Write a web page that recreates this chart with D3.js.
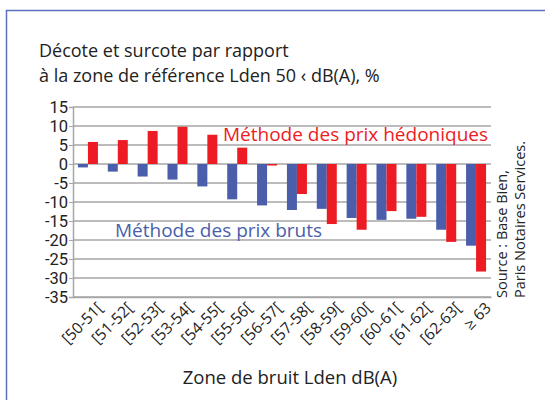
<!DOCTYPE html>
<html>
<head>
<meta charset="utf-8">
<script src="https://cdn.jsdelivr.net/npm/d3@7"></script>
<style>
  html, body { margin: 0; padding: 0; background: #fff; }
  svg { display: block; font-family: "Open Sans", sans-serif; }
</style>
</head>
<body>
<div id="root"></div>
<script>
const categories = ['[50-51[', '[51-52[', '[52-53[', '[53-54[', '[54-55[', '[55-56[', '[56-57[',
    '[57-58[', '[58-59[', '[59-60[', '[60-61[', '[61-62[', '[62-63[', '≥ 63'];
const brutsValues = [-0.9, -2.0, -3.3, -4.1, -5.9, -9.3, -10.9, -12.1, -11.8, -14.2, -14.7, -14.4, -17.3, -21.5];
const hedoniquesValues = [5.8, 6.3, 8.7, 9.8, 7.7, 4.3, -0.4, -7.9, -15.8, -17.3, -12.4, -13.9, -20.5, -28.3];
const yTicks = [15, 10, 5, 0, -5, -10, -15, -20, -25, -30, -35];

const width = 545;
const height = 400;
const blue = '#4a5eab';
const red = '#ed1c24';

const svg = d3.select('#root')
    .append('svg')
        .attr('width', width)
        .attr('height', height);

// frame (left + top only)
svg.append('path')
    .attr('d', `M6.5,${height} V10.5 H${width}`)
    .attr('fill', 'none')
    .attr('stroke', '#5b6fc0')
    .attr('stroke-width', 1.5);

// title
const title = svg.append('text')
    .attr('y', 57)
    .attr('font-size', 18)
    .attr('fill', '#222');
title.append('tspan').attr('x', 39).text('Décote et surcote par rapport');
title.append('tspan').attr('x', 39).attr('dy', 25).text('à la zone de référence Lden 50 ‹ dB(A), %');

const x = d3.scaleBand()
    .domain(categories)
    .range([73, 491]);

const y = d3.scaleLinear()
    .domain([-35, 15])
    .range([297, 107]);

// grid lines
svg.append('g')
    .selectAll('line')
    .data(yTicks)
    .enter()
    .append('line')
        .attr('x1', 73)
        .attr('x2', 491)
        .attr('y1', d => y(d))
        .attr('y2', d => y(d))
        .attr('stroke', '#a6a6a6')
        .attr('stroke-width', 1.5);

// y axis
const yAxis = svg.append('g')
    .attr('transform', 'translate(73, 0)')
    .call(d3.axisLeft(y).tickValues(yTicks).tickSize(4));
yAxis.select('.domain').attr('stroke', '#a6a6a6').attr('stroke-width', 1.5);
yAxis.selectAll('.tick line').attr('stroke', '#a6a6a6');
yAxis.selectAll('.tick text')
    .attr('font-family', 'Roboto, sans-serif')
    .attr('font-size', 16.5)
    .attr('fill', '#222')
    .attr('x', -5)
    .text(d => d < 0 ? '-' + Math.abs(d) : d);

// x axis
const xAxis = svg.append('g')
    .attr('transform', `translate(0, ${y(-35)})`)
    .call(d3.axisBottom(x).tickSize(0).tickFormat(''));
xAxis.select('.domain').attr('stroke', '#a6a6a6').attr('stroke-width', 1.5);

svg.append('g')
    .selectAll('text')
    .data(categories)
    .enter()
    .append('text')
        .attr('transform', d => `translate(${x(d) + x.bandwidth() / 2 + 16}, 309) rotate(-45)`)
        .attr('text-anchor', 'end')
        .attr('font-size', 15.5)
        .attr('fill', '#222')
        .text(d => d);

const barW = 10;

// blue bars
svg.append('g')
    .selectAll('rect')
    .data(brutsValues)
    .enter()
    .append('rect')
        .attr('x', (d, i) => x(categories[i]) + x.bandwidth() / 2 - barW)
        .attr('y', d => y(Math.max(0, d)))
        .attr('width', barW)
        .attr('height', d => Math.abs(y(d) - y(0)))
        .attr('fill', blue);

// red bars
svg.append('g')
    .selectAll('rect')
    .data(hedoniquesValues)
    .enter()
    .append('rect')
        .attr('x', (d, i) => x(categories[i]) + x.bandwidth() / 2)
        .attr('y', d => y(Math.max(0, d)))
        .attr('width', barW)
        .attr('height', d => Math.abs(y(d) - y(0)))
        .attr('fill', red);

// series labels
svg.append('text')
    .attr('x', 223)
    .attr('y', 141)
    .attr('font-size', 19)
    .attr('fill', red)
    .text('Méthode des prix hédoniques');

svg.append('text')
    .attr('x', 115)
    .attr('y', 237)
    .attr('font-size', 19)
    .attr('fill', blue)
    .text('Méthode des prix bruts');

// source
const src = svg.append('text')
    .attr('transform', 'translate(513, 298) rotate(-90)')
    .attr('font-size', 14.5)
    .attr('fill', '#222');
src.append('tspan').attr('x', 0).attr('y', -6).text('Source : Base Bien,');
src.append('tspan').attr('x', 0).attr('y', 12).text('Paris Notaires Services.');

// x axis title
svg.append('text')
    .attr('x', 290)
    .attr('y', 384)
    .attr('text-anchor', 'middle')
    .attr('font-size', 18.5)
    .attr('fill', '#222')
    .text('Zone de bruit Lden dB(A)');
</script>
</body>
</html>
